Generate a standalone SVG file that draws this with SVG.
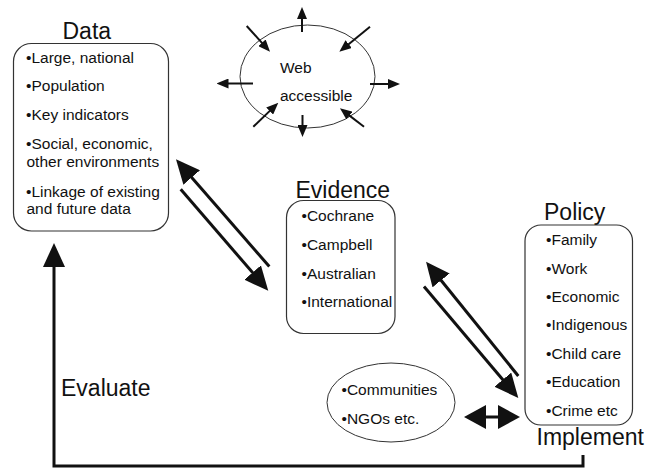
<svg xmlns="http://www.w3.org/2000/svg" width="649" height="469" viewBox="0 0 649 469">
<style>
  text { font-family: "Liberation Sans", Arial, sans-serif; fill: #111; }
  .title { font-size: 23px; }
  .item { font-size: 15.5px; }
  .box { fill: #fff; stroke: #333; stroke-width: 1.2; }
  .ell { fill: none; stroke: #333; stroke-width: 1; }
  .big { fill: none; stroke: #111; stroke-width: 3; marker-end: url(#head); }
  .small { fill: none; stroke: #111; stroke-width: 2; marker-end: url(#shead); }
</style>
<defs>
  <marker id="head" viewBox="0 0 24 22" refX="4" refY="11" markerWidth="24" markerHeight="22" markerUnits="userSpaceOnUse" orient="auto-start-reverse">
    <path d="M0,0 L24,11 L0,22 z" fill="#111"/>
  </marker>
  <marker id="dhead" viewBox="0 0 22 24" refX="4" refY="12" markerWidth="22" markerHeight="24" markerUnits="userSpaceOnUse" orient="auto-start-reverse">
    <path d="M0,0 L22,12 L0,24 z" fill="#111"/>
  </marker>
  <marker id="shead" viewBox="0 0 12 10" refX="2" refY="5" markerWidth="12" markerHeight="10" markerUnits="userSpaceOnUse" orient="auto">
    <path d="M0,0 L12,5 L0,10 z" fill="#111"/>
  </marker>
</defs>

<g id="data">
  <text class="title" x="62.5" y="38.5">Data</text>
  <rect class="box" x="13.5" y="43.5" width="155" height="187.5" rx="18"/>
  <text class="item" x="26" y="62.5">•Large, national</text>
  <text class="item" x="26" y="91">•Population</text>
  <text class="item" x="26" y="119.5">•Key indicators</text>
  <text class="item" x="26" y="148.5">•Social, economic,</text>
  <text class="item" x="26.5" y="167">other environments</text>
  <text class="item" x="26" y="196.5">•Linkage of existing</text>
  <text class="item" x="26.5" y="213.5">and future data</text>
</g>

<g id="web">
  <ellipse class="ell" cx="307.5" cy="76.5" rx="67.5" ry="51.5"/>
  <text class="item" x="280" y="72.5">Web</text>
  <text class="item" x="280" y="100.5">accessible</text>
</g>

<g id="evidence">
  <text class="title" x="295.5" y="197.5">Evidence</text>
  <rect class="box" x="286.5" y="200.5" width="108.5" height="133" rx="17"/>
  <text class="item" x="301.5" y="221">•Cochrane</text>
  <text class="item" x="301.5" y="250">•Campbell</text>
  <text class="item" x="301.5" y="278.5">•Australian</text>
  <text class="item" x="301.5" y="307">•International</text>
</g>

<g id="policy">
  <text class="title" x="544" y="220">Policy</text>
  <rect class="box" x="525" y="225" width="107.5" height="200" rx="16"/>
  <text class="item" x="546" y="245">•Family</text>
  <text class="item" x="546" y="273.5">•Work</text>
  <text class="item" x="546" y="302">•Economic</text>
  <text class="item" x="546" y="330">•Indigenous</text>
  <text class="item" x="546" y="358.5">•Child care</text>
  <text class="item" x="546" y="387">•Education</text>
  <text class="item" x="546" y="415.5">•Crime etc</text>
</g>

<g id="communities">
  <ellipse class="ell" cx="391" cy="402.5" rx="64" ry="39.5"/>
  <text class="item" x="341.5" y="395">•Communities</text>
  <text class="item" x="341.5" y="423.5">•NGOs etc.</text>
</g>

<g id="labels">
  <text class="title" x="536.5" y="445">Implement</text>
  <text class="title" x="61" y="396">Evaluate</text>
</g>

<g id="connectors">
  <!-- web accessible outward / inward arrows -->
  <line class="small" x1="302" y1="32" x2="302" y2="17"/>
  <line class="small" x1="302.5" y1="115" x2="302.5" y2="127"/>
  <line class="small" x1="253" y1="83.5" x2="226.5" y2="83.5"/>
  <line class="small" x1="370" y1="84" x2="390" y2="84"/>
  <line class="small" x1="246.7" y1="26" x2="263.3" y2="44.3"/>
  <line class="small" x1="370" y1="26.7" x2="347.1" y2="45.4"/>
  <line class="small" x1="253.3" y1="126.7" x2="271.1" y2="109.6"/>
  <line class="small" x1="364" y1="126.7" x2="347.9" y2="114.4"/>

  <!-- data <-> evidence -->
  <line class="big" x1="269.3" y1="266.5" x2="189.1" y2="174.4"/>
  <line class="big" x1="180.7" y1="189.3" x2="255.2" y2="275.6"/>

  <!-- evidence <-> policy -->
  <line class="big" x1="518.3" y1="376" x2="438.6" y2="277.3"/>
  <line class="big" x1="424" y1="286.5" x2="505.4" y2="382.7"/>

  <!-- communities <-> policy -->
  <line x1="482" y1="417" x2="502" y2="417" style="fill:none; stroke:#111; stroke-width:3; marker-start:url(#dhead); marker-end:url(#dhead)"/>

  <!-- implement -> evaluate -> data -->
  <polyline class="big" points="583,455 583,466 54,466 54,263"/>
</g>
</svg>
